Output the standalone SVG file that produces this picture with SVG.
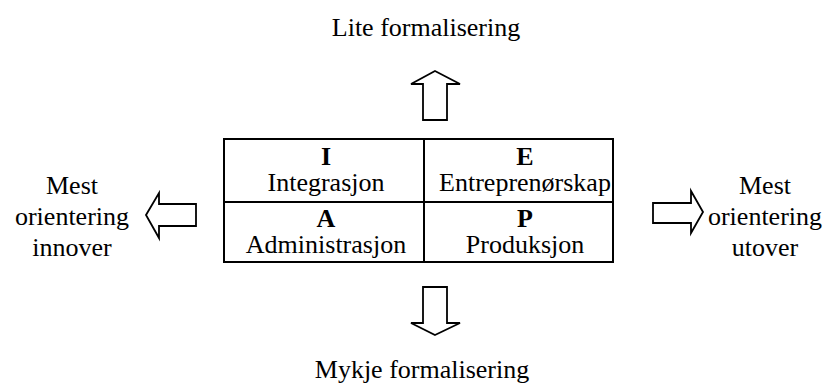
<svg xmlns="http://www.w3.org/2000/svg" width="833" height="385" viewBox="0 0 833 385">
  <style>
    text { font-family: "Liberation Serif", "Times New Roman", serif; font-size: 26px; fill: #000; text-anchor: middle; }
    .b { font-weight: bold; }
    .grid { fill: none; stroke: #000; stroke-width: 2; }
    .arrow { fill: #fff; stroke: #000; stroke-width: 1.8; stroke-linejoin: miter; }
  </style>
  <rect width="833" height="385" fill="#fff"/>

  <!-- quadrant table -->
  <g id="table">
    <rect class="grid" x="224" y="139" width="389" height="123"/>
    <line class="grid" x1="424" y1="139" x2="424" y2="262"/>
    <line class="grid" x1="224" y1="202" x2="613" y2="202"/>
  </g>
  <g id="cell-I">
    <text class="b" x="326" y="165">I</text>
    <text x="326" y="191">Integrasjon</text>
  </g>
  <g id="cell-E">
    <text class="b" x="525" y="165">E</text>
    <text x="525" y="191">Entreprenørskap</text>
  </g>
  <g id="cell-A">
    <text class="b" x="326" y="227">A</text>
    <text x="326" y="253">Administrasjon</text>
  </g>
  <g id="cell-P">
    <text class="b" x="525" y="227">P</text>
    <text x="525" y="253">Produksjon</text>
  </g>

  <!-- block arrows -->
  <g id="arrows">
    <polygon class="arrow" points="435,71 460,84 447,84 447,120 423,120 423,84 411,84"/>
    <polygon class="arrow" points="435,335 460,323 447,323 447,287 423,287 423,323 411,323"/>
    <polygon class="arrow" points="146,215 159,193 159,204 196,204 196,226 159,226 159,238"/>
    <polygon class="arrow" points="703,212 691,191 691,203 653,203 653,223 691,223 691,233"/>
  </g>

  <!-- direction labels -->
  <g id="label-top">
    <text x="426" y="36">Lite formalisering</text>
  </g>
  <g id="label-bottom">
    <text x="422" y="378">Mykje formalisering</text>
  </g>
  <g id="label-left">
    <text x="72" y="194">Mest</text>
    <text x="72" y="225">orientering</text>
    <text x="72" y="256">innover</text>
  </g>
  <g id="label-right">
    <text x="765" y="194">Mest</text>
    <text x="765" y="225">orientering</text>
    <text x="765" y="256">utover</text>
  </g>
</svg>
